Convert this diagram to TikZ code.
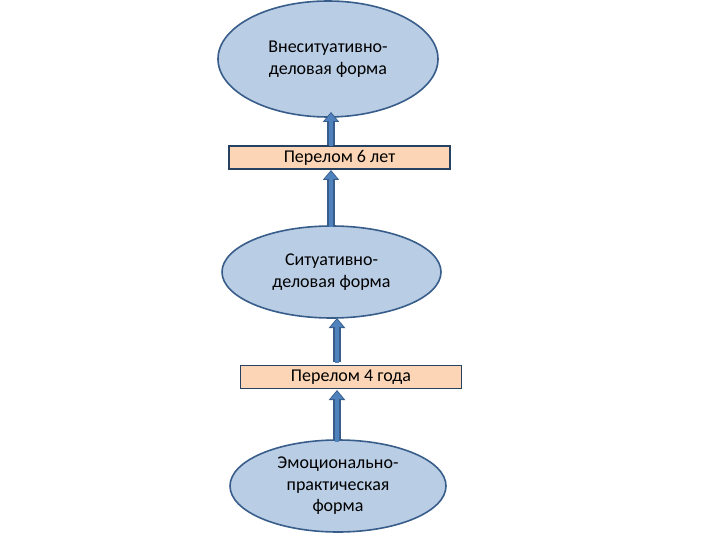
\documentclass[tikz,border=0pt]{standalone}
\usepackage{fontspec}
\setmainfont{Carlito}
\usetikzlibrary{shapes.geometric,arrows.meta}
\definecolor{ellfill}{HTML}{B9CDE5}
\definecolor{edgeblue}{HTML}{385D8A}
\definecolor{boxfill}{HTML}{FBD5B5}
\definecolor{arrowblue}{HTML}{4F81BD}
\tikzset{
  stage/.style={ellipse, draw=edgeblue, line width=1.6pt, fill=ellfill, inner sep=0pt,
    align=center, font=\fontsize{18}{21.5}\selectfont},
  crisis/.style={rectangle, draw=edgeblue!70!black, line width=1.2pt, fill=boxfill, inner sep=0pt,
    minimum width=221pt, minimum height=23pt, font=\fontsize{18}{20}\selectfont},
  uparrowout/.style={draw=edgeblue, line width=7.5pt, -{Triangle[length=10pt,width=16pt]}},
  uparrowin/.style={draw=arrowblue, line width=4.5pt, shorten >=1.4pt, -{Triangle[length=7.5pt,width=12pt]}},
}
\begin{document}
\begin{tikzpicture}[x=1pt,y=-1pt]
\useasboundingbox (0,0) rectangle (720,540);
\node[stage, minimum width=220pt, minimum height=116pt] (e1) at (328,59) {Внеситуативно-\\деловая форма};
\node[crisis] (b1) at (339.5,157.5) {Перелом 6 лет};
\node[stage, minimum width=219pt, minimum height=92pt] (e2) at (331.5,272) {Ситуативно-\\деловая форма};
\node[crisis] (b2) at (351,377) {Перелом 4 года};
\node[stage, minimum width=216pt, minimum height=92pt] (e3) at (338,486) {Эмоционально-\\практическая\\форма};
\coordinate (a1s) at (331,145);
\coordinate (a1e) at (331,112);
\coordinate (a2s) at (331,226);
\coordinate (a2e) at (331,170);
\coordinate (a3s) at (337,362);
\coordinate (a3e) at (337,318);
\coordinate (a4s) at (337,441);
\coordinate (a4e) at (337,390);
\foreach \s/\e in {a1s/a1e,a2s/a2e,a3s/a3e,a4s/a4e}{
  \draw[uparrowout] (\s) -- (\e);
  \draw[uparrowin] ([yshift=-1pt]\s) -- (\e);
}
\end{tikzpicture}
\end{document}
